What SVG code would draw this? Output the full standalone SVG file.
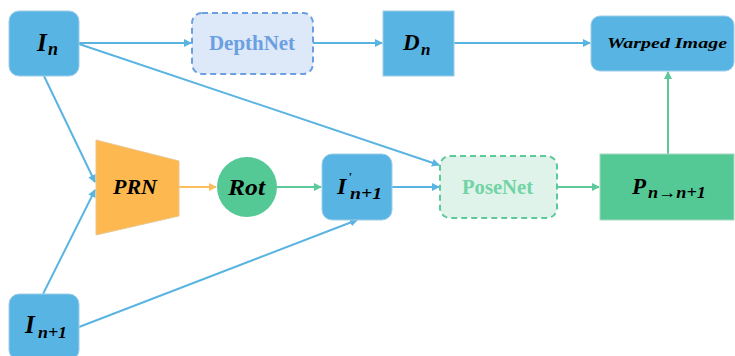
<svg xmlns="http://www.w3.org/2000/svg" width="735" height="356" viewBox="0 0 735 356">
<style>
.blue{fill:#58b5e3;stroke:#9ecde8;stroke-width:1}
.t{font-family:"Liberation Serif","DejaVu Serif",serif;font-weight:bold;font-style:italic;fill:#000}
.lb{stroke:#5ab4e2;stroke-width:2;fill:none}
.lg{stroke:#5dc99a;stroke-width:2;fill:none}
.lo{stroke:#fbbd5e;stroke-width:2;fill:none}
</style>
<defs>
<marker id="ab" markerWidth="8" markerHeight="8" refX="7" refY="4" orient="auto" markerUnits="userSpaceOnUse"><path d="M0,0 L8,4 L0,8 z" fill="#5ab4e2"/></marker>
<marker id="ag" markerWidth="8" markerHeight="8" refX="7" refY="4" orient="auto" markerUnits="userSpaceOnUse"><path d="M0,0 L8,4 L0,8 z" fill="#5dc99a"/></marker>
<marker id="ao" markerWidth="8" markerHeight="8" refX="7" refY="4" orient="auto" markerUnits="userSpaceOnUse"><path d="M0,0 L8,4 L0,8 z" fill="#fbbd5e"/></marker>
</defs>
<g id="connectors">
<line class="lb" x1="79" y1="43" x2="191" y2="43" marker-end="url(#ab)"/>
<line class="lb" x1="313" y1="43" x2="382" y2="43" marker-end="url(#ab)"/>
<line class="lb" x1="454" y1="43" x2="590" y2="43" marker-end="url(#ab)"/>
<line class="lb" x1="79" y1="44" x2="439" y2="165" marker-end="url(#ab)"/>
<line class="lb" x1="44" y1="76" x2="95" y2="182" marker-end="url(#ab)"/>
<line class="lb" x1="43" y1="294" x2="95" y2="190" marker-end="url(#ab)"/>
<line class="lb" x1="79" y1="327" x2="357" y2="220" marker-end="url(#ab)"/>
<line class="lo" x1="179" y1="187" x2="216" y2="187" marker-end="url(#ao)"/>
<line class="lg" x1="277" y1="187" x2="321" y2="187" marker-end="url(#ag)"/>
<line class="lb" x1="392" y1="187" x2="439" y2="187" marker-end="url(#ab)"/>
<line class="lg" x1="557" y1="187" x2="599" y2="187" marker-end="url(#ag)"/>
<line class="lg" x1="668" y1="154" x2="668" y2="72" marker-end="url(#ag)"/>
</g>
<g id="In">
<rect class="blue" x="9" y="11" width="70" height="65" rx="10"/>
<text class="t" x="37" y="51" font-size="25">I</text>
<text class="t" x="48" y="55" font-size="18">n</text>
</g>
<g id="DepthNet">
<rect x="192" y="13" width="121" height="61" rx="10" fill="#dde8f8" stroke="#6b9fe2" stroke-width="2" stroke-dasharray="6,4"/>
<text x="209" y="50" font-size="20" textLength="86" lengthAdjust="spacingAndGlyphs" font-family="Liberation Serif,serif" font-weight="bold" fill="#6b9fe2">DepthNet</text>
</g>
<g id="Dn">
<rect class="blue" x="383" y="11" width="71" height="65"/>
<text class="t" x="403" y="50" font-size="23">D</text>
<text class="t" x="421" y="55" font-size="17">n</text>
</g>
<g id="Warped">
<rect class="blue" x="591" y="16" width="143" height="55" rx="9"/>
<text class="t" x="607" y="48" font-size="15" textLength="120" lengthAdjust="spacingAndGlyphs">Warped Image</text>
</g>
<g id="PRN">
<polygon points="96,140 179,161 179,216 96,235" fill="#fdb94f" stroke="#e8c690" stroke-width="1"/>
<text class="t" x="113" y="194" font-size="20" textLength="44" lengthAdjust="spacingAndGlyphs">PRN</text>
</g>
<g id="Rot">
<circle cx="247" cy="187" r="30" fill="#55c995"/>
<text class="t" x="228" y="195" font-size="24" textLength="37" lengthAdjust="spacingAndGlyphs">Rot</text>
</g>
<g id="Iprime">
<rect class="blue" x="322" y="154" width="70" height="66" rx="10"/>
<text class="t" x="337" y="194" font-size="24">I</text>
<text class="t" x="348" y="181" font-size="13">'</text>
<text class="t" x="350" y="199" font-size="17" textLength="32" lengthAdjust="spacingAndGlyphs">n+1</text>
</g>
<g id="PoseNet">
<rect x="440" y="156" width="117" height="62" rx="10" fill="#dff3ea" stroke="#5dc99a" stroke-width="2" stroke-dasharray="6,4"/>
<text x="462" y="194" font-size="20" textLength="71" lengthAdjust="spacingAndGlyphs" font-family="Liberation Serif,serif" font-weight="bold" fill="#72d3a5">PoseNet</text>
</g>
<g id="P">
<rect x="600" y="154" width="134" height="66" fill="#55c995" stroke="#a8d8c0" stroke-width="1"/>
<text class="t" x="632" y="194" font-size="23">P</text>
<text class="t" x="648" y="198" font-size="17" textLength="58" lengthAdjust="spacingAndGlyphs">n→n+1</text>
</g>
<g id="In1">
<rect class="blue" x="9" y="294" width="70" height="66" rx="10"/>
<text class="t" x="25" y="333" font-size="25">I</text>
<text class="t" x="38" y="338" font-size="17" textLength="29" lengthAdjust="spacingAndGlyphs">n+1</text>
</g>
</svg>
